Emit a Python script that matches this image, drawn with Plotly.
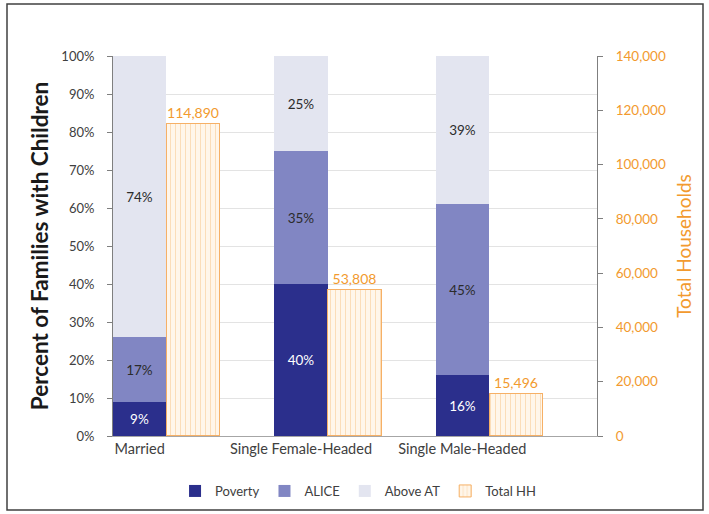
import plotly.graph_objects as go

# Family types and their breakdown by income status
categories = ["Married", "Single Female-Headed", "Single Male-Headed"]
poverty = [9, 40, 16]
alice = [17, 35, 45]
above_at = [74, 25, 39]
total_hh = [114890, 53808, 15496]

pct_ticks = [0, 10, 20, 30, 40, 50, 60, 70, 80, 90, 100]
hh_ticks = [0, 20000, 40000, 60000, 80000, 100000, 120000, 140000]

FONT = "Lato"
TICK_COLOR = "#404040"
ORANGE = "#F29A2E"

idx = list(range(len(categories)))
bar_w = 0.33
stack_x = [i - 0.335 for i in idx]
hh_x = [i - 0.0 for i in idx]

fig = go.Figure()

segments = [
    ("Poverty", poverty, "#2B2F8C", "white"),
    ("ALICE", alice, "#8186C3", "#2b2b2b"),
    ("Above AT", above_at, "#E3E5F0", "#2b2b2b"),
]
for name, vals, color, tcolor in segments:
    fig.add_trace(go.Bar(
        name=name, x=stack_x, y=vals, width=bar_w,
        marker=dict(color=color, line=dict(width=0)),
        text=[f"{v}%" for v in vals], textposition="inside",
        insidetextanchor="middle", constraintext="none",
        textfont=dict(color=tcolor, size=13.5, family=FONT),
        yaxis="y", hoverinfo="skip",
    ))

fig.add_trace(go.Bar(
    name="Total HH", x=hh_x, y=total_hh, width=bar_w, yaxis="y2",
    marker=dict(
        color="#FFF4E6",
        line=dict(color="#F6B066", width=1),
        pattern=dict(shape="|", fgcolor="#F8C486", bgcolor="#FFF6EA",
                     size=5, solidity=0.2),
    ),
    text=[f"{v:,}" for v in total_hh], textposition="outside",
    cliponaxis=False, constraintext="none",
    textfont=dict(color=ORANGE, size=14, family=FONT),
    hoverinfo="skip",
))

fig.update_layout(
    width=709, height=514,
    margin=dict(l=113, r=112, t=56, b=78, autoexpand=False),
    paper_bgcolor="white", plot_bgcolor="white",
    barmode="stack", bargap=0,
    font=dict(family=FONT, size=13, color=TICK_COLOR),
    showlegend=True,
    legend=dict(orientation="h", xref="container", yref="container",
                x=0.505, xanchor="center", y=(514 - 491) / 514,
                yanchor="middle", font=dict(size=13, color=TICK_COLOR),
                itemwidth=30, traceorder="normal"),
    xaxis=dict(
        range=[-0.5, 2.5], tickmode="array", tickvals=stack_x,
        ticktext=categories, showgrid=False, zeroline=False,
        showline=True, linecolor="#A6A6A6", linewidth=1, ticks="",
        tickfont=dict(size=14.5, color=TICK_COLOR),
    ),
    yaxis=dict(
        range=[0, 100], tickmode="array", tickvals=pct_ticks,
        ticktext=[f"{t}%" for t in pct_ticks],
        showgrid=True, gridcolor="#E3E3E3", gridwidth=1, zeroline=False,
        showline=True, linecolor="#7F7F7F", linewidth=1,
        ticks="outside", ticklen=5, tickcolor="#7F7F7F",
        ticklabelstandoff=10,
        tickfont=dict(size=13, color=TICK_COLOR),
        title=dict(text="<b>Percent of Families with Children</b>",
                   font=dict(size=22.5, color="#1a1a1a", family=FONT), standoff=6),
    ),
    yaxis2=dict(
        overlaying="y", side="right", range=[0, 140000],
        tickmode="array", tickvals=hh_ticks,
        ticktext=[f"{t:,}" for t in hh_ticks],
        showgrid=False, zeroline=False,
        showline=True, linecolor="#7F7F7F", linewidth=1,
        ticks="outside", ticklen=5, tickcolor="#7F7F7F",
        ticklabelstandoff=10,
        tickfont=dict(size=13.5, color=ORANGE),
        title=dict(text="Total Households",
                   font=dict(size=19, color=ORANGE, family=FONT), standoff=12),
    ),
    shapes=[dict(
        type="rect", xref="paper", yref="paper",
        x0=(7 - 113) / 484, x1=(703 - 113) / 484,
        y0=(436 - 510) / 380, y1=(436 - 4) / 380,
        line=dict(color="#404040", width=1.5), fillcolor="rgba(0,0,0,0)",
        layer="below",
    )],
)

fig.write_html("out.html")
